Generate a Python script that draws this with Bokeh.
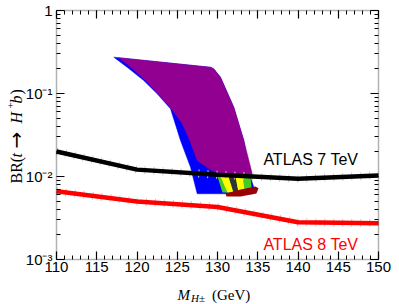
import math
from bokeh.plotting import figure
from bokeh.models import (LinearAxis, LogAxis, FixedTicker, Label, BoxAnnotation,
                          CustomJSTickFormatter, LogTickFormatter, Range1d)
from bokeh.embed import file_html
from bokeh.resources import INLINE

# ---------------- data ----------------
x_ticks = [110, 115, 120, 125, 130, 135, 140, 145, 150]
x_minor = list(range(110, 151))
y_ticks = [0.001, 0.01, 0.1, 1]
y_tick_labels = ["10⁻³", "10⁻²", "10⁻¹", "1"]
y_minor = [k * 10.0 ** e for e in (-3, -2, -1) for k in range(2, 10)]

atlas7_mass = [110, 120, 130, 140, 150]
atlas7_br = [0.0200, 0.0121, 0.0105, 0.0094, 0.0103]

atlas8_mass = [110, 120, 130, 140, 150]
atlas8_br = [0.00665, 0.0050, 0.0043, 0.00281, 0.00274]

# allowed region, outer (blue) boundary
blue_mass = [117.12, 118.78, 120.84, 122.51, 124.16, 125.40, 126.65, 127.27, 127.48,
             134.47, 134.51, 134.10, 133.27, 132.02, 130.37, 129.54, 129.13]
blue_br = [0.274, 0.207, 0.143, 0.099, 0.0654, 0.0272, 0.0129, 0.00743, 0.00619,
           0.0062, 0.00743, 0.00981, 0.0272, 0.0684, 0.157, 0.198, 0.207]

# inner (purple) region
purple_mass = [117.74, 119.44, 121.30, 122.92, 124.53, 125.61, 126.56, 127.48, 128.88,
               130.12, 132.11, 134.35, 134.22, 133.27, 132.02, 130.37, 129.54, 129.13]
purple_br = [0.269, 0.200, 0.136, 0.092, 0.0607, 0.0435, 0.0272, 0.0156, 0.0125,
             0.0109, 0.0103, 0.0103, 0.0118, 0.0272, 0.0684, 0.157, 0.198, 0.207]

# small bands below the 7 TeV limit
green_mass = [130.00, 134.10, 134.30, 130.62]
green_br = [0.0100, 0.0100, 0.00641, 0.00641]
yellow1_mass = [130.37, 131.37, 131.99, 131.24]
yellow1_br = [0.0100, 0.0100, 0.00641, 0.00641]
dark_mass = [131.37, 132.24, 132.61, 131.99]
dark_br = [0.0100, 0.0100, 0.00641, 0.00641]
yellow2_mass = [132.24, 133.11, 133.40, 132.61]
yellow2_br = [0.0100, 0.0100, 0.00641, 0.00641]
red_mass = [130.99, 132.86, 134.72, 135.09, 134.84, 132.86, 131.12]
red_br = [0.00624, 0.00697, 0.00760, 0.00720, 0.00624, 0.00575, 0.00575]

label7 = "ATLAS 7 TeV"
label8 = "ATLAS 8 TeV"

# ---------------- layout (pixels) ----------------
W, H = 399, 304
FL, FR, FT, FB = 56, 378, 10, 259          # visible plot box in canvas pixels
xpx = (FR - FL) / (x_ticks[-1] - x_ticks[0])
dec = (FB - FT) / (math.log10(y_ticks[-1]) - math.log10(y_ticks[0]))
x0 = x_ticks[0] - FL / xpx
x1 = x_ticks[-1] + (W - FR) / xpx
y1 = 10 ** (math.log10(y_ticks[-1]) + FT / dec)
y0 = 10 ** (math.log10(y_ticks[0]) - (H - FB) / dec)

p = figure(x_range=Range1d(x0, x1), y_range=Range1d(y0, y1), y_axis_type="log",
           x_axis_location=None, y_axis_location=None,
           width=W, height=H, min_border=0,
           output_backend="svg", toolbar_location=None)
p.xgrid.visible = False
p.ygrid.visible = False
p.outline_line_color = None
p.background_fill_color = "white"
p.border_fill_color = "white"

FONT = "Liberation Sans"
SERIF = "Liberation Serif"


def style(ax):
    ax.axis_line_color = None
    ax.major_tick_in = 8
    ax.major_tick_out = 0
    ax.minor_tick_in = 4
    ax.minor_tick_out = 0
    ax.major_tick_line_width = 1.2
    ax.minor_tick_line_width = 1.0
    ax.major_label_text_font = FONT
    ax.major_label_text_color = "black"


empty = CustomJSTickFormatter(code="return ''")

xax = LinearAxis(fixed_location=y_ticks[0], ticker=FixedTicker(ticks=x_ticks, minor_ticks=x_minor))
style(xax)
xax.major_label_text_font_size = "15px"
xax.major_label_standoff = 2
p.add_layout(xax, "below")

yax = LogAxis(fixed_location=x_ticks[0], ticker=FixedTicker(ticks=y_ticks, minor_ticks=y_minor),
              formatter=LogTickFormatter())
style(yax)
yax.major_label_text_font_size = "15px"
yax.major_label_standoff = 4
yax.major_label_overrides = dict(zip(y_ticks, y_tick_labels))
p.add_layout(yax, "left")

top = LinearAxis(fixed_location=y_ticks[-1], ticker=FixedTicker(ticks=x_ticks, minor_ticks=x_minor),
                 formatter=empty)
style(top)
top.major_label_standoff = 0
p.add_layout(top, "above")

right = LogAxis(fixed_location=x_ticks[-1], ticker=FixedTicker(ticks=y_ticks, minor_ticks=y_minor),
                formatter=empty)
style(right)
right.major_label_standoff = 0
p.add_layout(right, "right")

# ---------------- regions ----------------
p.patch(blue_mass, blue_br, fill_color="#0000ff", line_color="#0000ff", line_width=0.5)
p.patch(purple_mass, purple_br, fill_color="#910091", line_color="#910091", line_width=0.5)
p.patch(green_mass, green_br, fill_color="#44cc22", line_color=None)
p.patch(yellow1_mass, yellow1_br, fill_color="#ffff00", line_color=None)
p.patch(dark_mass, dark_br, fill_color="#333333", line_color=None)
p.patch(yellow2_mass, yellow2_br, fill_color="#ffff00", line_color=None)
p.patch(red_mass, red_br, fill_color="#990000", line_color=None)

# ---------------- limits ----------------
p.line(atlas7_mass, atlas7_br, line_color="#cccccc", line_width=8, line_dash="1 8")
p.line(atlas8_mass, atlas8_br, line_color="#cccccc", line_width=8, line_dash="1 8")
p.line(atlas7_mass, atlas7_br, line_color="black", line_width=4.5)
p.line(atlas8_mass, atlas8_br, line_color="#ff0000", line_width=4.5)

p.add_layout(Label(x=135.7, y=0.0160, text=label7, text_font=FONT, text_font_size="16px",
                   text_color="black", text_baseline="alphabetic"))
p.add_layout(Label(x=135.7, y=0.00152, text=label8, text_font=FONT, text_font_size="16px",
                   text_color="#ff0000", text_baseline="alphabetic"))

# frame box
p.add_layout(BoxAnnotation(left=x_ticks[0], right=x_ticks[-1], bottom=y_ticks[0], top=y_ticks[-1],
                           fill_alpha=0, line_color="black", line_width=1.5, level="overlay"))


# ---------------- axis titles (pieces, canvas pixels) ----------------
def lab(px, py, text, size, fstyle="normal", angle=0.0, font=SERIF):
    p.add_layout(Label(x=px, y=H - py, x_units="screen", y_units="screen", text=text,
                       text_font=font, text_font_size=size, text_font_style=fstyle,
                       text_color="black", angle=angle, text_baseline="alphabetic"))


# x title: M_{H±} (GeV)
lab(177, 294, "M", "15px", "italic")
lab(190.5, 297, "H±", "11px", "italic")
lab(211.5, 294, "(GeV)", "15px")

# y title: BR(t → H⁺b), rotated
A = math.pi / 2
bx = 16
lab(bx, 183, "BR(", "16px", "normal", A)
lab(bx, 157, "t", "16px", "italic", A)
lab(bx - 0.5, 148, "→", "20px", "normal", A, "DejaVu Sans")
lab(bx, 123, "H", "16px", "italic", A)
lab(bx - 6, 108, "+", "11px", "normal", A)
lab(bx, 103, "b", "16px", "italic", A)
lab(bx, 94, ")", "16px", "normal", A)

open("out.html", "w").write(file_html(p, INLINE))
